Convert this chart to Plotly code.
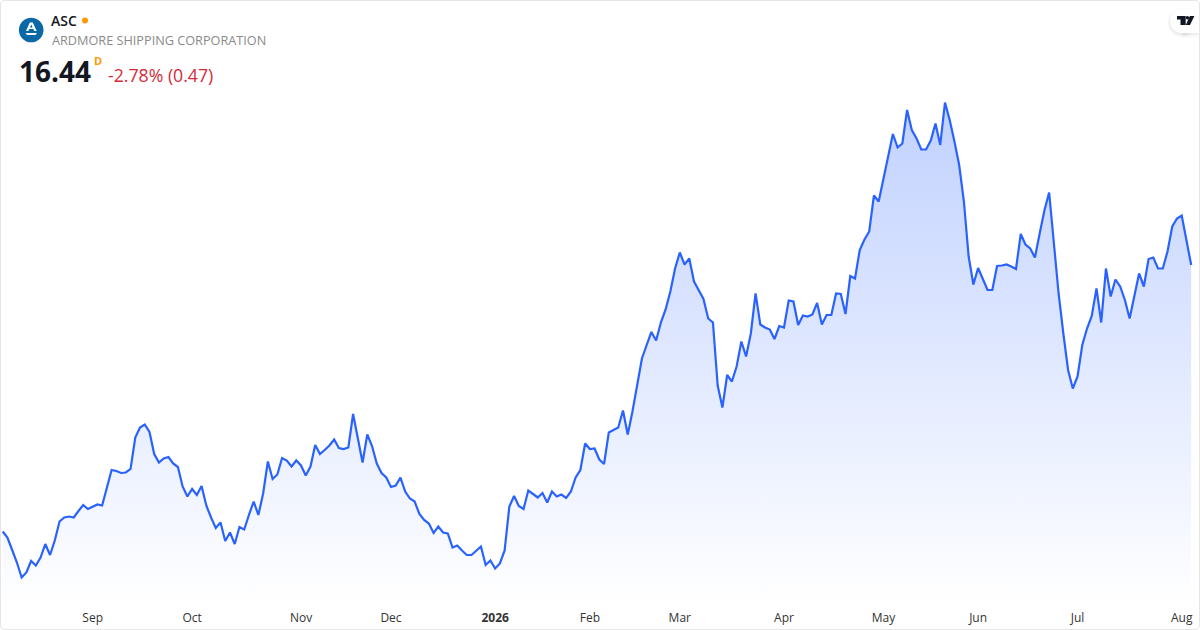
import pandas as pd
import plotly.graph_objects as go

W, H = 1200, 630

SYMBOL = "ASC"
COMPANY = "ARDMORE SHIPPING CORPORATION"
LAST_PRICE = "16.44"
RESOLUTION = "D"
CHANGE = "-2.78% (0.47)"

HOLIDAYS = ["2025-09-01", "2025-11-27", "2025-12-25", "2026-01-01", "2026-01-19",
            "2026-02-16", "2026-04-03", "2026-05-25", "2026-06-19", "2026-07-03"]
dates = [d.strftime("%Y-%m-%d") for d in pd.bdate_range("2025-08-05", "2026-08-06")
         if d.strftime("%Y-%m-%d") not in HOLIDAYS]

closes = [
    11.11, 10.99, 10.74, 10.49, 10.19, 10.29, 10.52, 10.43, 10.59, 10.86,
    10.64, 10.93, 11.31, 11.39, 11.41, 11.39, 11.52, 11.64, 11.56, 11.61,
    11.65, 11.63, 11.97, 12.34, 12.32, 12.28, 12.29, 12.36, 12.99, 13.19,
    13.25, 13.10, 12.66, 12.49, 12.57, 12.60, 12.47, 12.40, 12.01, 11.81,
    11.96, 11.84, 12.02, 11.63, 11.39, 11.18, 11.29, 10.92, 11.09, 10.86,
    11.20, 11.15, 11.44, 11.71, 11.44, 11.87, 12.51, 12.16, 12.25, 12.58,
    12.53, 12.41, 12.53, 12.43, 12.23, 12.41, 12.84, 12.66, 12.74, 12.83,
    12.95, 12.78, 12.76, 12.79, 13.46, 12.97, 12.49, 13.05, 12.82, 12.47,
    12.28, 12.19, 12.00, 12.03, 12.19, 11.91, 11.77, 11.71, 11.46, 11.34,
    11.27, 11.08, 11.21, 11.09, 11.07, 10.79, 10.83, 10.73, 10.64, 10.64,
    10.73, 10.81, 10.44, 10.53, 10.37, 10.47, 10.73, 11.61, 11.82, 11.62,
    11.56, 11.93, 11.86, 11.79, 11.88, 11.69, 11.91, 11.81, 11.85, 11.78,
    11.91, 12.19, 12.34, 12.87, 12.76, 12.77, 12.55, 12.46, 13.09, 13.14,
    13.19, 13.53, 13.05, 13.51, 14.01, 14.57, 14.84, 15.10, 14.93, 15.29,
    15.55, 15.91, 16.37, 16.69, 16.45, 16.57, 16.11, 15.93, 15.76, 15.37,
    15.29, 14.03, 13.59, 14.24, 14.11, 14.41, 14.91, 14.61, 15.07, 15.87,
    15.25, 15.19, 15.15, 14.96, 15.22, 15.19, 15.73, 15.71, 15.24, 15.43,
    15.41, 15.45, 15.68, 15.25, 15.44, 15.44, 15.87, 15.86, 15.46, 16.22,
    16.17, 16.74, 16.95, 17.11, 17.83, 17.71, 18.14, 18.57, 19.06, 18.79,
    18.87, 19.54, 19.14, 18.97, 18.75, 18.75, 18.93, 19.27, 18.84, 19.69,
    19.34, 18.91, 18.44, 17.71, 16.61, 16.05, 16.38, 16.16, 15.94, 15.94,
    16.42, 16.43, 16.45, 16.41, 16.36, 17.06, 16.85, 16.77, 16.59, 17.07,
    17.53, 17.89, 16.84, 15.87, 15.07, 14.34, 13.97, 14.21, 14.84, 15.17,
    15.42, 15.97, 15.29, 16.37, 15.81, 16.15, 16.01, 15.74, 15.37, 15.81,
    16.27, 16.01, 16.56, 16.59, 16.37, 16.37, 16.71, 17.21, 17.37, 17.43,
    16.94, 16.44,
]

tick_dates = ["2025-09-02", "2025-10-01", "2025-11-03", "2025-12-01", "2026-01-02", "2026-02-02",
              "2026-03-02", "2026-04-01", "2026-05-01", "2026-06-01", "2026-07-01", "2026-08-03"]
tick_labels = ["Sep", "Oct", "Nov", "Dec", "<b>2026</b>", "Feb", "Mar", "Apr", "May", "Jun", "Jul", "Aug"]

# Value axis: the visible range of the chart, chosen so the first pixel row is the top
Y_TOP, Y_BOTTOM = 21.74, 9.14
STEP = 4.735
FIRST = 2.7

LINE = "#2962ff"
TEXT_FONT = "Open Sans"


def px(x):
    return x / W


def py(y):
    return 1 - y / H


def path(points):
    return "M " + " L ".join(f"{px(x):.5f} {py(y):.5f}" for x, y in points) + " Z"


def rect(x0, y0, x1, y1, fill):
    return dict(type="rect", xref="paper", yref="paper", x0=px(x0), x1=px(x1), y0=py(y0), y1=py(y1),
                fillcolor=fill, line=dict(width=0), layer="above")


def circle(cx, cy, r, fill):
    return dict(type="circle", xref="paper", yref="paper", x0=px(cx - r), x1=px(cx + r),
                y0=py(cy - r), y1=py(cy + r), fillcolor=fill, line=dict(width=0), layer="above")


def poly(points, fill):
    return dict(type="path", xref="paper", yref="paper", path=path(points), fillcolor=fill,
                line=dict(width=0), layer="above")


def text(x, y, s, size, color, weight=400, anchor="left"):
    return dict(xref="paper", yref="paper", x=px(x), y=py(y), text=s, showarrow=False,
                xanchor=anchor, yanchor="middle", borderpad=0,
                font=dict(family=TEXT_FONT, size=size, color=color, weight=weight))


fig = go.Figure(go.Scatter(
    x=dates, y=closes, mode="lines",
    line=dict(color=LINE, width=2.2),
    fill="tozeroy",
    fillgradient=dict(type="vertical",
                      colorscale=[[0, "rgba(41,98,255,0.0)"], [1, "rgba(41,98,255,0.29)"]],
                      start=9.64, stop=19.70),
    hoverinfo="x+y",
))

shapes = [
    # outer frame
    dict(type="path", xref="paper", yref="paper",
         path=path([(0.5, 3), (3, 0.5), (1197, 0.5), (1199.5, 3), (1199.5, 627), (1197, 629.5), (3, 629.5), (0.5, 627)]),
         fillcolor="rgba(0,0,0,0)", line=dict(color="#e6e6e6", width=1), layer="above"),
    # symbol logo
    circle(31.2, 30, 12.3, "#0a68a6"),
    poly([(29.8, 22.5), (32.8, 22.5), (36.7, 31), (34.3, 31), (33.4, 29), (29.2, 29), (28.3, 31), (26, 31)], "#ffffff"),
    poly([(30, 27.6), (32.6, 27.6), (31.3, 24.6)], "#0a68a6"),
    poly([(25.5, 33), (37, 33), (35.5, 35), (27, 35)], "#ffffff"),
    # market status dot
    circle(85, 20.5, 3, "#ff9800"),
    # watermark pill, soft shadow first
    circle(1182, 23, 15, "rgba(0,0,0,0.012)"),
    circle(1182, 23, 14, "rgba(0,0,0,0.018)"),
    circle(1182, 22.5, 13, "rgba(0,0,0,0.03)"),
    rect(1182, 8, 1199, 38, "rgba(0,0,0,0.012)"),
    rect(1182, 9, 1199, 36.5, "rgba(0,0,0,0.018)"),
    rect(1182, 9, 1199, 35, "rgba(0,0,0,0.03)"),
    circle(1182, 21, 12, "#ffffff"),
    rect(1182, 9, 1199, 33, "#ffffff"),
    # watermark glyph
    poly([(1177, 16), (1185.7, 16), (1185.7, 25), (1180.5, 25), (1180.5, 19.5), (1177, 19.5)], "#131722"),
    circle(1187.4, 17.8, 1.7, "#131722"),
    poly([(1189.8, 16), (1194.4, 16), (1190, 25), (1185.8, 25)], "#131722"),
]

annotations = [
    text(50, 20.5, SYMBOL, 14, "#131722", 600),
    text(51, 40.5, COMPANY, 12.7, "#8a8a8a"),
    text(17.5, 71, LAST_PRICE, 28, "#131722", 700),
    text(92.5, 61, RESOLUTION, 11, "#ff9800", 700),
    text(107, 74.5, CHANGE, 17.7, "#d42b3c"),
]

fig.update_layout(
    width=W, height=H,
    margin=dict(l=0, r=0, t=0, b=0, pad=0),
    paper_bgcolor="#ffffff", plot_bgcolor="#ffffff",
    showlegend=False, shapes=shapes, annotations=annotations,
    xaxis=dict(type="category", categoryorder="array", categoryarray=dates,
               range=[-FIRST / STEP, (W - FIRST) / STEP],
               tickmode="array", tickvals=tick_dates, ticktext=tick_labels,
               ticklabelposition="inside", ticklabelstandoff=3, ticks="", showgrid=False,
               zeroline=False, showline=False,
               tickangle=0, tickfont=dict(family=TEXT_FONT, size=12, color="#333333")),
    yaxis=dict(range=[Y_BOTTOM, Y_TOP], visible=False, showgrid=False, zeroline=False),
)

fig.write_html("out.html", config={"displayModeBar": False},
               post_script="document.body.style.margin='0';document.body.style.overflow='hidden';")
